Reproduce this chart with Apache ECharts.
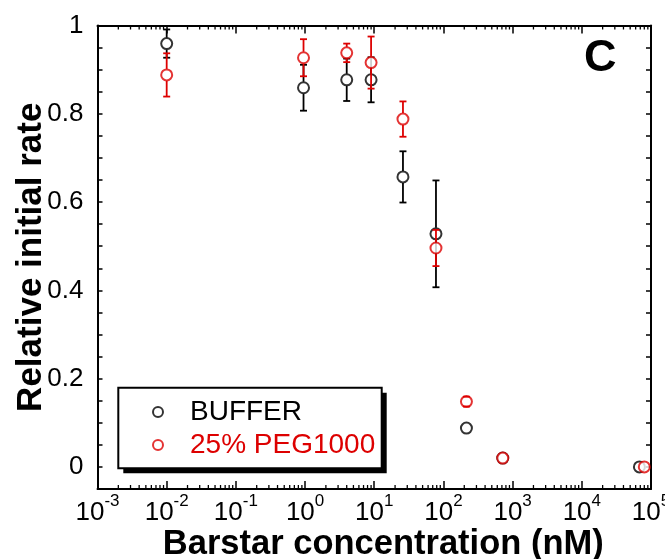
<!DOCTYPE html>
<html><head><meta charset="utf-8">
<script src="https://cdn.jsdelivr.net/npm/echarts@6/dist/echarts.min.js"></script>
<style>html,body{margin:0;padding:0;background:#fff}#c{width:665px;height:559px}</style>
</head><body><div id="c"></div>
<script>
// ---- data ----
const bufferConc = [0.01, 0.95, 4, 9, 26, 78, 215, 720, 68000];
const bufferValues = [0.959, 0.859, 0.877, 0.877, 0.657, 0.528, 0.088, 0.020, 0.0];
const bufferErrors = [0.032, 0.052, 0.048, 0.051, 0.058, 0.121, 0, 0, 0];
const pegConc = [0.01, 0.95, 4, 9, 26, 78, 215, 720, 80000];
const pegValues = [0.888, 0.927, 0.938, 0.916, 0.788, 0.496, 0.148, 0.020, 0.0];
const pegErrors = [0.049, 0.042, 0.021, 0.059, 0.040, 0.041, 0.011, 0, 0];
const yTickLabels = ['0', '0.2', '0.4', '0.6', '0.8', '1'];
const xDecades = [-3, -2, -1, 0, 1, 2, 3, 4, 5];
const seriesNames = ['BUFFER', '25% PEG1000'];

const BLACK = '#000000', RED = '#dd0000';
const YMIN = -0.05, YMAX = 1;

// minor tick positions for the log axis (2..9 x each decade)
const minorTicks = [];
for (let d = xDecades[0]; d < xDecades[xDecades.length - 1]; d++) {
  for (let k = 2; k <= 9; k++) minorTicks.push([k * Math.pow(10, d), 0]);
}

function errRender(color) {
  return function (params, api) {
    const x = api.value(0), v = api.value(1), e = api.value(2);
    if (!e) return null;
    const c = api.coord([x, v]);
    const hi = api.coord([x, v + e]);
    const lo = api.coord([x, v - e]);
    const r = 6, cw = 3.5;
    const style = { stroke: color, lineWidth: 1.8 };
    const ch = [];
    if (hi[1] < c[1] - r) ch.push({ type: 'line', shape: { x1: c[0], y1: c[1] - r, x2: c[0], y2: hi[1] }, style });
    if (lo[1] > c[1] + r) ch.push({ type: 'line', shape: { x1: c[0], y1: c[1] + r, x2: c[0], y2: lo[1] }, style });
    ch.push({ type: 'line', shape: { x1: c[0] - cw, y1: hi[1], x2: c[0] + cw, y2: hi[1] }, style });
    ch.push({ type: 'line', shape: { x1: c[0] - cw, y1: lo[1], x2: c[0] + cw, y2: lo[1] }, style });
    return { type: 'group', children: ch };
  };
}

function minorTickRender(params, api) {
  const v = api.value(0);
  const b = api.coord([v, YMIN]);
  const t = api.coord([v, YMAX]);
  const style = { stroke: '#000', lineWidth: 1.3 };
  return {
    type: 'group', silent: true, children: [
      { type: 'line', shape: { x1: b[0], y1: b[1], x2: b[0], y2: b[1] - 4 }, style },
      { type: 'line', shape: { x1: t[0], y1: t[1], x2: t[0], y2: t[1] + 4 }, style }
    ]
  };
}

const FONT = '"Liberation Sans", Arial, Helvetica, sans-serif';
const chart = echarts.init(document.getElementById('c'), null, { renderer: 'canvas' });

const axisLine = { show: true, onZero: false, lineStyle: { color: '#000', width: 2 } };

chart.setOption({
  animation: false,
  backgroundColor: '#fff',
  textStyle: { fontFamily: FONT },
  grid: { left: 97.5, top: 25.5, right: 14, bottom: 70, containLabel: false, outerBoundsMode: 'none' },
  xAxis: [{
    type: 'log', logBase: 10, min: 0.001, max: 100000, splitNumber: 8,
    position: 'bottom',
    axisLine,
    axisTick: { show: true, inside: true, length: 8, lineStyle: { color: '#000', width: 1.5 } },
    splitLine: { show: false },
    axisLabel: {
      margin: 4,
      formatter: function (v) {
        const e = Math.round(Math.log10(v));
        return '{a|10}{b|' + e + '}';
      },
      rich: {
        a: { fontSize: 26, fontFamily: FONT, color: '#000', lineHeight: 33, verticalAlign: 'bottom' },
        b: { fontSize: 17, fontFamily: FONT, color: '#000', lineHeight: 17, verticalAlign: 'top' }
      }
    },
    name: 'Barstar concentration (nM)',
    nameLocation: 'middle', nameGap: 38, nameMoveOverlap: false,
    nameTextStyle: { fontSize: 34.5, fontWeight: 'bold', color: '#000', fontFamily: FONT, padding: [0, 0, 0, 18] }
  }, {
    type: 'log', logBase: 10, min: 0.001, max: 100000, splitNumber: 8,
    position: 'top',
    axisLine,
    axisTick: { show: true, inside: true, length: 8, lineStyle: { color: '#000', width: 1.5 } },
    axisLabel: { show: false },
    splitLine: { show: false }
  }],
  yAxis: [{
    type: 'value', min: YMIN, max: YMAX, interval: 0.05,
    position: 'left',
    axisLine,
    axisTick: { show: true, inside: true, length: 5, lineStyle: { color: '#000', width: 1.5 } },
    splitLine: { show: false },
    axisLabel: {
      margin: 14, fontSize: 26, color: '#000', fontFamily: FONT,
      formatter: function (v) {
        const q = v / 0.2;
        if (v < -1e-9 || Math.abs(q - Math.round(q)) > 1e-6) return '';
        return yTickLabels[Math.round(q)];
      }
    },
    name: 'Relative initial rate',
    nameLocation: 'middle', nameGap: 49, nameMoveOverlap: false,
    nameTextStyle: { fontSize: 35, fontWeight: 'bold', color: '#000', fontFamily: FONT }
  }, {
    type: 'value', min: YMIN, max: YMAX, interval: 0.05,
    position: 'right',
    axisLine,
    axisTick: { show: true, inside: true, length: 5, lineStyle: { color: '#000', width: 1.5 } },
    axisLabel: { show: false },
    splitLine: { show: false }
  }],
  legend: {
    orient: 'vertical',
    left: 118, top: 388,
    padding: [10, 6, 9, 34],
    itemGap: 5,
    itemWidth: 10, itemHeight: 10,
    textStyle: { fontSize: 28, fontFamily: FONT, padding: [0, 0, 0, 22], lineHeight: 28 },
    data: [
      { name: seriesNames[0], textStyle: { color: BLACK } },
      { name: seriesNames[1], textStyle: { color: RED } }
    ],
    z: 10
  },
  graphic: [
    {
      type: 'rect', z: 8, silent: true,
      shape: { x: 123.3, y: 392.7, width: 263.4, height: 80.6 },
      style: { fill: '#000' }
    },
    {
      type: 'rect', z: 9, silent: true,
      shape: { x: 118.3, y: 387.7, width: 263.4, height: 80.6 },
      style: { fill: '#fff', stroke: '#000', lineWidth: 2 }
    },
    {
      type: 'text', left: 584, top: 36,
      style: { text: 'C', font: 'bold 45px ' + FONT, fill: '#000' }
    }
  ],
  series: [
    {
      type: 'custom', name: 'minorTicks', xAxisIndex: 0, yAxisIndex: 0,
      renderItem: minorTickRender, data: minorTicks, silent: true, clip: false, z: 1
    },
    {
      type: 'scatter', name: seriesNames[0], xAxisIndex: 0, yAxisIndex: 0,
      symbol: 'emptyCircle', symbolSize: 11,
      itemStyle: { color: BLACK, borderWidth: 1.8 },
      data: bufferConc.map((c, i) => [c, bufferValues[i]]), z: 2, clip: false
    },
    {
      type: 'custom', name: 'bufferErr', xAxisIndex: 0, yAxisIndex: 0,
      renderItem: errRender(BLACK), clip: false, z: 3,
      data: bufferConc.map((c, i) => [c, bufferValues[i], bufferErrors[i]])
    },
    {
      type: 'scatter', name: seriesNames[1], xAxisIndex: 0, yAxisIndex: 0,
      symbol: 'emptyCircle', symbolSize: 11,
      itemStyle: { color: RED, borderWidth: 1.8 },
      data: pegConc.map((c, i) => [c, pegValues[i]]), z: 4, clip: false
    },
    {
      type: 'custom', name: 'pegErr', xAxisIndex: 0, yAxisIndex: 0,
      renderItem: errRender(RED), clip: false, z: 5,
      data: pegConc.map((c, i) => [c, pegValues[i], pegErrors[i]])
    }
  ]
});
</script>
</body></html>
